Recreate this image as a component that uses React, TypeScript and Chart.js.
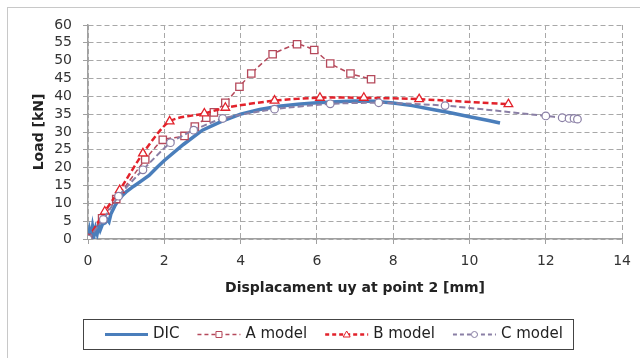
import React, { useEffect, useRef } from "react";
import { Chart, registerables } from "chart.js";

Chart.register(...registerables);

const dicX = [0, 0.04, 0.08, 0.12, 0.16, 0.2, 0.24, 0.28, 0.32, 0.38, 0.45, 0.5, 0.55, 0.6, 0.7, 0.8, 0.9, 1.0, 1.2, 1.4, 1.6, 1.8, 2.0, 2.5, 3.0, 3.5, 4.0, 4.5, 5.0, 5.5, 6.0, 6.5, 7.0, 7.5, 8.0, 8.5, 9.0, 9.5, 10.0, 10.5, 10.8];
const dicY = [0, 2.5, 0.5, 3.5, 1, 3, 1.5, 3.8, 2.5, 4.2, 4.5, 5.5, 4.8, 7, 9.2, 11, 12.2, 13.2, 14.8, 16.3, 17.8, 20, 22, 26.5, 30.5, 33, 35, 36.3, 37.2, 37.8, 38.2, 38.5, 38.7, 38.6, 38.1, 37.4, 36.4, 35.4, 34.3, 33.2, 32.5];

const aX = [0, 0.37, 0.74, 1.5, 1.96, 2.53, 2.8, 3.1, 3.3, 3.6, 3.97, 4.28, 4.84, 5.48, 5.93, 6.35, 6.88, 7.42];
const aY = [0, 5.8, 11.2, 22.3, 27.8, 28.9, 31.5, 34.0, 35.5, 38.2, 42.7, 46.4, 51.8, 54.6, 53.0, 49.2, 46.4, 44.8];

const bX = [0, 0.44, 0.83, 1.44, 2.14, 3.05, 3.6, 4.89, 6.08, 7.23, 8.68, 11.02];
const bY = [0, 7.7, 13.7, 24.0, 33.0, 35.2, 36.8, 38.8, 39.6, 39.6, 39.2, 37.8];

const cX = [0, 0.4, 0.8, 1.44, 2.16, 2.77, 3.53, 4.89, 6.35, 7.62, 9.36, 12.0, 12.43, 12.61, 12.74, 12.83];
const cY = [0, 5.5, 12.0, 19.4, 27.0, 30.5, 33.8, 36.4, 37.9, 38.2, 37.4, 34.5, 34.0, 33.8, 33.8, 33.6];

const seriesNames = ["DIC", "A model", "B model", "C model"];
const xTickMax = 14;
const yTickMax = 60;
const xTitle = "Displacament uy at point 2 [mm]";
const yTitle = "Load [kN]";

const FONT = '"DejaVu Sans"';

const toPts = (xs: number[], ys: number[]) => xs.map((x, i) => ({ x, y: ys[i] }));

const framePlugin = {
  id: "frame",
  beforeDraw(chart: any) {
    const ctx = chart.ctx;
    ctx.save();
    ctx.fillStyle = "#ffffff";
    ctx.fillRect(0, 0, chart.width, chart.height);
    ctx.strokeStyle = "#c8c8c8";
    ctx.lineWidth = 1;
    ctx.strokeRect(7.5, 7.5, chart.width + 10, chart.height + 10);
    ctx.restore();
  },
};

const legendPlugin = {
  id: "customLegend",
  afterDraw(chart: any) {
    const ctx = chart.ctx;
    ctx.save();
    ctx.strokeStyle = "#444";
    ctx.lineWidth = 1;
    ctx.setLineDash([]);
    ctx.strokeRect(83.5, 319.5, 490, 30);
    ctx.font = `15px ${FONT}`;
    ctx.textBaseline = "middle";
    ctx.textAlign = "left";
    const cy = 334.5;
    let x = 105;
    chart.data.datasets.forEach((ds: any) => {
      const lw = 43;
      ctx.save();
      ctx.setLineDash(ds.legendDash || []);
      ctx.strokeStyle = ds.borderColor;
      ctx.lineWidth = ds.legendWidth || ds.borderWidth;
      ctx.beginPath();
      ctx.moveTo(x, cy);
      ctx.lineTo(x + lw, cy);
      ctx.stroke();
      ctx.restore();
      if (ds.pointRadius > 0) {
        ctx.save();
        ctx.setLineDash([]);
        ctx.strokeStyle = ds.pointBorderColor;
        ctx.fillStyle = "#fff";
        ctx.lineWidth = 1;
        const mx = x + lw / 2;
        const r = 3;
        ctx.beginPath();
        if (ds.pointStyle === "rect") {
          ctx.rect(mx - r, cy - r, 2 * r, 2 * r);
        } else if (ds.pointStyle === "triangle") {
          ctx.moveTo(mx, cy - r - 0.5);
          ctx.lineTo(mx + r + 0.5, cy + r - 0.5);
          ctx.lineTo(mx - r - 0.5, cy + r - 0.5);
          ctx.closePath();
        } else {
          ctx.arc(mx, cy, r, 0, Math.PI * 2);
        }
        ctx.fill();
        ctx.stroke();
        ctx.restore();
      }
      ctx.fillStyle = "#222";
      ctx.fillText(ds.label, x + lw + 5, cy);
      const tw = ctx.measureText(ds.label).width;
      x = x + lw + 5 + tw + 18;
    });
    ctx.restore();
  },
};

export default function App() {
  const ref = useRef<HTMLCanvasElement | null>(null);
  useEffect(() => {
    document.body.style.margin = "0";
    if (!ref.current) return;
    const chart = new Chart(ref.current, {
      type: "line",
      data: {
        datasets: [
          {
            label: seriesNames[0],
            data: toPts(dicX, dicY),
            borderColor: "#4a7ebb",
            backgroundColor: "#4a7ebb",
            borderWidth: 3.5,
            legendWidth: 3,
            pointRadius: 0,
            tension: 0,
            order: 3,
          } as any,
          {
            label: seriesNames[1],
            data: toPts(aX, aY),
            borderColor: "#b5495b",
            borderWidth: 1.5,
            borderDash: [5, 3],
            legendDash: [4, 3],
            pointStyle: "rect",
            pointRadius: 5.2,
            pointBorderWidth: 1.3,
            pointBorderColor: "#b5495b",
            pointBackgroundColor: "#ffffff",
            tension: 0.15,
            order: 2,
          } as any,
          {
            label: seriesNames[2],
            data: toPts(bX, bY),
            borderColor: "#e2222b",
            borderWidth: 2.5,
            borderDash: [6, 3],
            legendDash: [4, 3],
            pointStyle: "triangle",
            pointRadius: 5,
            pointBorderWidth: 1.3,
            pointBorderColor: "#e2222b",
            pointBackgroundColor: "#ffffff",
            tension: 0.25,
            order: 1,
          } as any,
          {
            label: seriesNames[3],
            data: toPts(cX, cY),
            borderColor: "#8a7fa5",
            borderWidth: 2,
            borderDash: [6, 3],
            legendDash: [4, 3],
            pointStyle: "circle",
            pointRadius: 3.8,
            pointBorderWidth: 1.2,
            pointBorderColor: "#8a7fa5",
            pointBackgroundColor: "#ffffff",
            tension: 0.2,
            order: 0,
          } as any,
        ],
      },
      options: {
        responsive: false,
        animation: false,
        devicePixelRatio: 1,
        layout: { padding: { left: 20, top: 25, right: 17, bottom: 59 } },
        plugins: { legend: { display: false }, tooltip: { enabled: false } },
        scales: {
          x: {
            type: "linear",
            min: 0,
            max: xTickMax,
            afterFit: (s: any) => {
              s.height = 60;
            },
            ticks: { stepSize: 2, autoSkip: false, color: "#333", font: { family: FONT, size: 14 }, padding: 9, maxRotation: 0 },
            grid: { color: "#a8a8a8", lineWidth: 1, tickLength: 5, tickColor: "#a0a0a0", tickBorderDash: [] },
            border: { display: true, color: "#a0a0a0", width: 1.5, dash: [5, 3] },
            title: {
              display: true,
              text: xTitle,
              color: "#222",
              font: { family: FONT, size: 14, weight: "bold" },
              padding: { top: 0, bottom: 2 },
            },
          },
          y: {
            type: "linear",
            min: 0,
            max: yTickMax,
            afterFit: (s: any) => {
              s.width = 68;
            },
            ticks: { stepSize: 5, autoSkip: false, color: "#333", font: { family: FONT, size: 14, lineHeight: 1 }, padding: 11 },
            grid: { color: "#a8a8a8", lineWidth: 1, tickLength: 5, tickColor: "#a0a0a0", tickBorderDash: [] },
            border: { display: true, color: "#a0a0a0", width: 1.5, dash: [5, 3] },
            title: {
              display: true,
              text: yTitle,
              color: "#222",
              font: { family: FONT, size: 14, weight: "bold" },
              padding: { top: 11, bottom: 0 },
            },
          },
        },
      } as any,
      plugins: [framePlugin, legendPlugin],
    });
    return () => chart.destroy();
  }, []);
  return (
    <div style={{ position: "fixed", left: 0, top: 0, width: 640, height: 358 }}>
      <canvas ref={ref} width={640} height={358} style={{ width: 640, height: 358, display: "block" }} />
    </div>
  );
}
